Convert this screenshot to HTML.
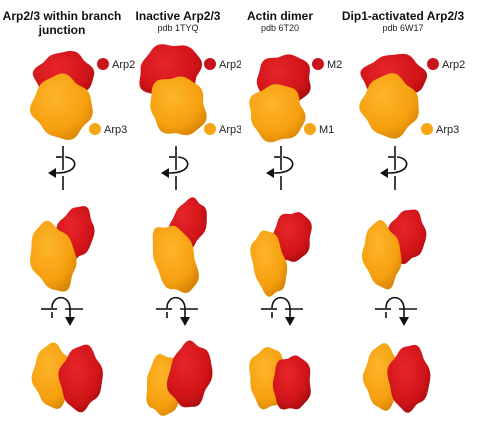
<!DOCTYPE html>
<html><head><meta charset="utf-8"><style>
body{margin:0;background:#fff;width:494px;height:428px;overflow:hidden}
svg{display:block}
text{font-family:"Liberation Sans",sans-serif}
</style></head><body>
<svg id="fig" width="494" height="428">
<defs>
<radialGradient id="gr" cx="40%" cy="35%" r="70%"><stop offset="0" stop-color="#e8262a"/><stop offset="0.7" stop-color="#d01418"/><stop offset="1" stop-color="#a80c10"/></radialGradient>
<radialGradient id="go" cx="40%" cy="35%" r="70%"><stop offset="0" stop-color="#fdb52a"/><stop offset="0.7" stop-color="#f6a00f"/><stop offset="1" stop-color="#d88608"/></radialGradient>
</defs>
<g font-weight="bold" font-size="12" text-anchor="middle" fill="#111">
<text x="62" y="20">Arp2/3 within branch</text>
<text x="62" y="34">junction</text>
<text x="178" y="20">Inactive Arp2/3</text>
<text x="280" y="20">Actin dimer</text>
<text x="403" y="20">Dip1-activated Arp2/3</text>
</g>
<g font-size="9" text-anchor="middle" fill="#222">
<text x="178" y="31">pdb 1TYQ</text>
<text x="280" y="31">pdb 6T20</text>
<text x="403" y="31">pdb 6W17</text>
</g>
<g id="blobs"></g>
<g id="legend"></g>
<g id="icons"></g>
</svg>
<script>
const NS="http://www.w3.org/2000/svg";
const blobsG=document.getElementById('blobs');
function blob(cx,cy,rx,ry,rot,fill,seed,name){
  const p=document.createElementNS(NS,'path');
  let d='';const n=64;
  for(let i=0;i<=n;i++){
    const a=i/n*Math.PI*2;
    const k=1+0.05*Math.sin(a*4+seed)+0.04*Math.cos(a*7+seed*2)+0.03*Math.sin(a*2+seed*3);
    const x=Math.cos(a)*rx*k,y=Math.sin(a)*ry*k;
    const c=Math.cos(rot),s=Math.sin(rot);
    const X=cx+x*c-y*s,Y=cy+x*s+y*c;
    d+=(i?'L':'M')+X.toFixed(1)+' '+Y.toFixed(1);
  }
  p.setAttribute('d',d+'Z');
  p.setAttribute('fill',fill);
  
  
  blobsG.appendChild(p);
}
// row1
blob(64,76,29,24,0,'url(#gr)',1,'arp2-junction-front');
blob(62,107,30,31,0,'url(#go)',2,'arp3-junction-front');
blob(170,71,31,27,-0.2,'url(#gr)',3,'arp2-inactive-front');
blob(178,106,28,30,-0.3,'url(#go)',4,'arp3-inactive-front');
blob(284,80,27,26,0,'url(#gr)',5,'m2-actin-front');
blob(277,113,28,28,0,'url(#go)',6,'m1-actin-front');
blob(394,77,31,23,0,'url(#gr)',7,'arp2-dip1-front');
blob(390,106,29,30,0,'url(#go)',8,'arp3-dip1-front');
// row2
blob(75,234,18,28,0.2,'url(#gr)',1,'arp2-junction-side');
blob(53,257,22,34,-0.2,'url(#go)',2,'arp3-junction-side');
blob(188,225,17,27,0.3,'url(#gr)',3,'arp2-inactive-side');
blob(175,259,21,35,-0.3,'url(#go)',4,'arp3-inactive-side');
blob(292,237,19,26,0.15,'url(#gr)',5,'m2-actin-side');
blob(269,263,17,32,-0.15,'url(#go)',6,'m1-actin-side');
blob(407,236,18,27,0.1,'url(#gr)',7,'arp2-dip1-side');
blob(382,255,19,32,-0.1,'url(#go)',8,'arp3-dip1-side');
// row3
blob(53,376,20,31,0,'url(#go)',2,'arp3-junction-top');
blob(81,378,21,32,0,'url(#gr)',1,'arp2-junction-top');
blob(164,385,18,30,0.1,'url(#go)',4,'arp3-inactive-top');
blob(190,375,21,33,0.1,'url(#gr)',3,'arp2-inactive-top');
blob(268,378,19,30,0,'url(#go)',6,'m1-actin-top');
blob(292,383,19,28,0,'url(#gr)',5,'m2-actin-top');
blob(383,377,19,31,0,'url(#go)',8,'arp3-dip1-top');
blob(409,378,20,33,0,'url(#gr)',7,'arp2-dip1-top');

const lg=document.getElementById('legend');
const labs=[[103,64,'#c8141c','Arp2'],[95,129,'#f6a515','Arp3'],[210,64,'#c8141c','Arp2'],[210,129,'#f6a515','Arp3'],[318,64,'#c8141c','M2'],[310,129,'#f6a515','M1'],[433,64,'#c8141c','Arp2'],[427,129,'#f6a515','Arp3']];
labs.forEach((l,i)=>{
  const c=document.createElementNS(NS,'circle');
  c.setAttribute('cx',l[0]);c.setAttribute('cy',l[1]);c.setAttribute('r',6);c.setAttribute('fill',l[2]);
  
  
  lg.appendChild(c);
  const t=document.createElementNS(NS,'text');
  t.setAttribute('x',l[0]+9);t.setAttribute('y',l[1]+4);t.setAttribute('font-size','11');t.setAttribute('fill','#222');
  t.textContent=l[3];
  
  
  lg.appendChild(t);
});
const cover=document.createElementNS(NS,'rect');
cover.setAttribute('x',241);cover.setAttribute('y',50);cover.setAttribute('width',8);cover.setAttribute('height',90);cover.setAttribute('fill','#fff');


lg.appendChild(cover);

const ic=document.getElementById('icons');
function icon(html,name){const g=document.createElementNS(NS,'g');g.innerHTML=html;
  
  
  ic.appendChild(g);}
[63,176,281,395].forEach((x,i)=>{
  icon(`<g stroke="#111" stroke-width="1.6" fill="none">
  <line x1="${x}" y1="146" x2="${x}" y2="170"/><line x1="${x}" y1="176" x2="${x}" y2="190"/>
  <line x1="${x-7}" y1="157" x2="${x-1}" y2="157"/>
  <path d="M${x+2} 157 C ${x+16} 158, ${x+16} 173, ${x-6} 173 L ${x-10} 173"/></g>
  <polygon points="${x-15},173 ${x-7},168 ${x-7},178" fill="#111"/>`,'vertical-rotation-icon-'+i);
});
[62,177,282,396].forEach((x,i)=>{
  icon(`<g stroke="#111" stroke-width="1.6" fill="none">
  <line x1="${x-21}" y1="309" x2="${x-5}" y2="309"/><line x1="${x+3}" y1="309" x2="${x+21}" y2="309"/>
  <line x1="${x-10}" y1="312" x2="${x-10}" y2="318"/>
  <path d="M${x-10} 308 C ${x-10} 294, ${x+8} 294, ${x+8} 309 L ${x+8} 318"/></g>
  <polygon points="${x+8},326 ${x+3},317 ${x+13},317" fill="#111"/>`,'horizontal-rotation-icon-'+i);
});
</script>
</body></html>
